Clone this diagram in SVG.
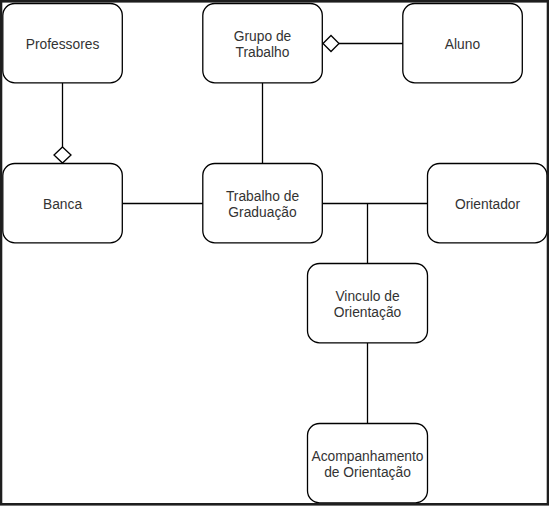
<svg xmlns="http://www.w3.org/2000/svg" width="549" height="506" viewBox="0 0 549 506">
<style>
.n{fill:#fff;stroke:#000;stroke-width:1.3}
.t{font-family:"Liberation Sans",Arial,sans-serif;font-size:13.8px;fill:#333;text-anchor:middle}
.c{stroke:#000;stroke-width:1.3;fill:none}
.d{fill:#fff;stroke:#000;stroke-width:1.3}
</style>
<rect x="0" y="0" width="549" height="506" fill="#fff"/>
<g id="connectors">
<line class="c" x1="62.5" y1="83" x2="62.5" y2="147"/>
<path class="d" d="M62.5 147 L71 155 L62.5 163 L54 155 Z"/>
<line class="c" x1="339" y1="43.5" x2="403" y2="43.5"/>
<path class="d" d="M323 43.5 L331 35.5 L339 43.5 L331 51.5 Z"/>
<line class="c" x1="262.5" y1="83" x2="262.5" y2="163.5"/>
<line class="c" x1="122.5" y1="203.5" x2="203" y2="203.5"/>
<line class="c" x1="322.5" y1="203.5" x2="427.5" y2="203.5"/>
<line class="c" x1="367.5" y1="203.5" x2="367.5" y2="263.5"/>
<line class="c" x1="367.5" y1="343" x2="367.5" y2="423.5"/>
</g>
<g id="professores"><rect class="n" x="2.8" y="3.5" width="119.5" height="79.3" rx="12"/><text class="t" x="62.5" y="48.5">Professores</text></g>
<g id="grupo"><rect class="n" x="202.8" y="3.5" width="119.5" height="79.3" rx="12"/><text class="t" x="262.5" y="41">Grupo de</text><text class="t" x="262.5" y="57">Trabalho</text></g>
<g id="aluno"><rect class="n" x="402.8" y="3.5" width="119.5" height="79.3" rx="12"/><text class="t" x="462.5" y="48.5">Aluno</text></g>
<g id="banca"><rect class="n" x="2.8" y="163.5" width="119.5" height="79.3" rx="12"/><text class="t" x="62.5" y="208.5">Banca</text></g>
<g id="trabalho"><rect class="n" x="202.8" y="163.5" width="119.5" height="79.3" rx="12"/><text class="t" x="262.5" y="201">Trabalho de</text><text class="t" x="262.5" y="217">Graduação</text></g>
<g id="orientador"><rect class="n" x="427.5" y="163.5" width="119.5" height="79.3" rx="12"/><text class="t" x="487.5" y="208.5">Orientador</text></g>
<g id="vinculo"><rect class="n" x="307.5" y="263.5" width="120" height="79.3" rx="12"/><text class="t" x="367.5" y="301">Vinculo de</text><text class="t" x="367.5" y="317">Orientação</text></g>
<g id="acompanhamento"><rect class="n" x="307.5" y="423.5" width="120" height="79.3" rx="12"/><text class="t" x="367.5" y="461">Acompanhamento</text><text class="t" x="367.5" y="477">de Orientação</text></g>
<rect x="1" y="1.3" width="547" height="503" fill="none" stroke="#1e1e1e" stroke-width="2.6"/>
</svg>
